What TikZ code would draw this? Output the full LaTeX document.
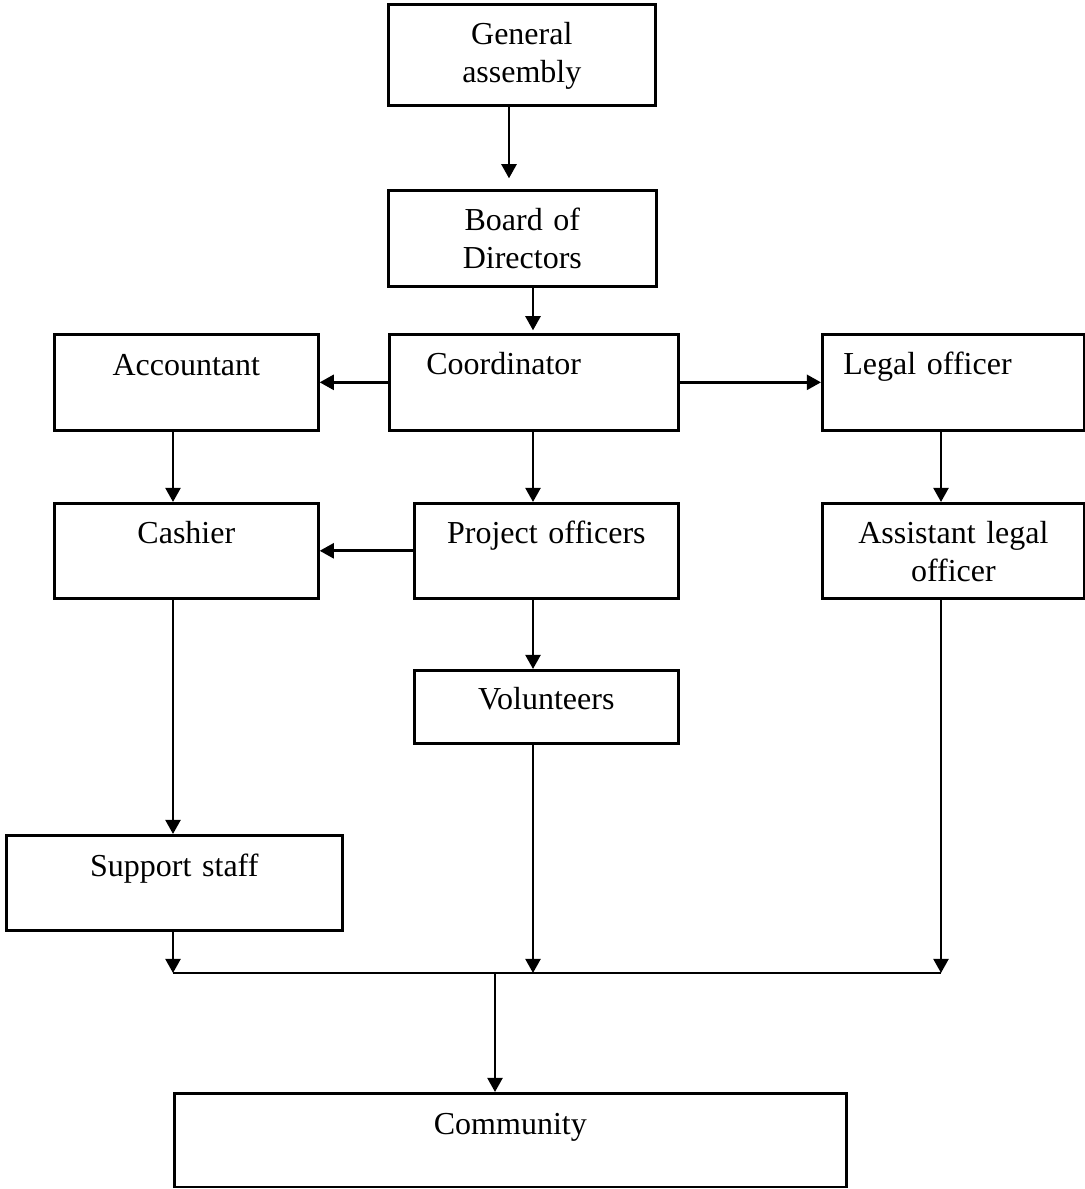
\documentclass[tikz,border=0pt]{standalone}
\usepackage{fontspec}
\setmainfont{Liberation Serif}
\usetikzlibrary{arrows.meta}

\begin{document}

\begin{tikzpicture}[x = 0.375pt, y = -0.375pt, > = {Triangle[length = 5.3pt, width = 5.6pt]}, line width = 1pt,
	box/.style = {draw, anchor = north west, inner xsep = 0pt, inner ysep = 0pt, align = center,
		text height = 15pt, font = \fontsize{12}{14.2}\selectfont}]

	% Page
	
	\useasboundingbox (0, 0) rectangle (1085, 1189);

	% Boxes
	
	\node [box, text width = 100.1pt, text depth = 22.9pt] (ga) at (387, 3) {General\\assembly};
	\node [box, text width = 100.5pt, text depth = 21pt] (bod) at (387, 189) {Board of\\Directors};
	
	\node [box, align = left, inner xsep = 13.9pt, text width = 80.6pt, text depth = 21pt] (coord) at (388, 333) {Coordinator};
	\node [box, text width = 99pt, text height = 15.4pt, text depth = 20.6pt] (acc) at (53, 333) {Accountant};
	\node [box, align = left, inner xsep = 7.9pt, text width = 82.5pt, text depth = 21pt] (legal) at (821, 333) {Legal officer};
	
	\node [box, text width = 99pt, text depth = 20.6pt] (cash) at (53, 502) {Cashier};
	\node [box, text width = 99pt, text depth = 20.6pt] (proj) at (413, 502) {Project officers};
	\node [box, text width = 98.3pt, text depth = 20.6pt] (asst) at (821, 502) {Assistant legal\\officer};
	
	\node [box, text width = 99pt, text height = 14.6pt, text depth = 12.8pt] (vol) at (413, 669) {Volunteers};
	\node [box, text width = 126pt, text height = 15.4pt, text depth = 20.2pt] (sup) at (5, 834) {Support staff};
	\node [box, text width = 252pt, text height = 15.4pt, text depth = 19.7pt] (com) at (173, 1092) {Community};
	
	% Columns and bus line
	
	\coordinate (colL) at (173, 0);
	\coordinate (colA) at (509, 0);
	\coordinate (colM) at (533, 0);
	\coordinate (colC) at (495, 0);
	\coordinate (colR) at (941, 0);
	\coordinate (bus) at (0, 973);
	
	% Arrows
	
	\begin{scope}[->]
	
		\draw [shorten > = 4pt] (ga.south -| colA) -- (bod.north -| colA);
		\draw [shorten > = 1pt] (bod.south -| colM) -- (coord.north -| colM);
		
		\draw (coord.west) -- (acc.east);
		\draw (coord.east) -- (legal.west);
		
		\draw (acc.south -| colL) -- (cash.north -| colL);
		\draw (coord.south -| colM) -- (proj.north -| colM);
		\draw (legal.south -| colR) -- (asst.north -| colR);
		
		\draw (proj.west) -- (cash.east);
		\draw (proj.south -| colM) -- (vol.north -| colM);
		\draw (cash.south -| colL) -- (sup.north -| colL);
		
		\draw (sup.south -| colL) -- (bus -| colL);
		\draw (vol.south -| colM) -- (bus -| colM);
		\draw (asst.south -| colR) -- (bus -| colR);
		
		\draw (bus -| colC) -- (com.north -| colC);
	
	\end{scope}
	
	\draw (bus -| colL) -- (bus -| colR);

\end{tikzpicture}

\end{document}
